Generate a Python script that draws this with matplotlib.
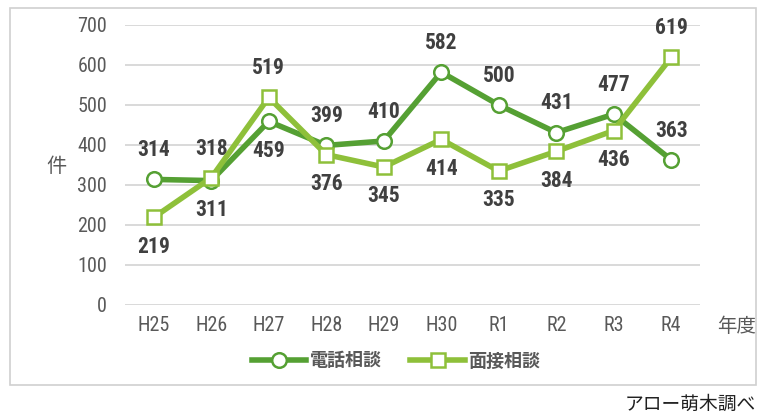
import matplotlib.pyplot as plt
from matplotlib.patches import Rectangle

plt.rcParams['font.family'] = ['Noto Sans CJK JP', 'DejaVu Sans']

years = ["H25", "H26", "H27", "H28", "H29", "H30", "R1", "R2", "R3", "R4"]
phone = [314, 311, 459, 399, 410, 582, 500, 431, 477, 363]
visit = [219, 318, 519, 376, 345, 414, 335, 384, 436, 619]
# label above (1) or below (-1) each point
phone_pos = [1, -1, -1, 1, 1, 1, 1, 1, 1, 1]
visit_pos = [-1, 1, 1, -1, -1, -1, -1, -1, -1, 1]

c_phone = "#55A033"
c_visit = "#8EC03A"
num_font = ['Roboto Condensed', 'Roboto', 'DejaVu Sans']

fig = plt.figure(figsize=(7.57, 4.16), dpi=100)
fig.patches.append(Rectangle((10 / 757, 1 - 385 / 416), 746 / 757, 377 / 416,
                             transform=fig.transFigure, fill=False,
                             edgecolor="#d0d0d0", linewidth=1.2))
ax = fig.add_axes([125 / 757, 1 - 305 / 416, 575 / 757, 280 / 416])

x = list(range(len(years)))
ax.plot(x, phone, color=c_phone, lw=4, marker="o", ms=10.5,
        mfc="white", mec=c_phone, mew=1.8, label="電話相談", zorder=3)
ax.plot(x, visit, color=c_visit, lw=4, marker="s", ms=10.5,
        mfc="white", mec=c_visit, mew=1.8, label="面接相談", zorder=4)

for xi, v, p in zip(x, phone, phone_pos):
    ax.annotate(str(v), (xi, v), xytext=(0, 21 * p), textcoords="offset points",
                ha="center", va="center", fontsize=15.5, fontweight="bold",
                color="#404040", family=num_font)
for xi, v, p in zip(x, visit, visit_pos):
    ax.annotate(str(v), (xi, v), xytext=(0, 21 * p), textcoords="offset points",
                ha="center", va="center", fontsize=15.5, fontweight="bold",
                color="#404040", family=num_font)

ax.set_xlim(-0.5, len(years) - 0.5)
ax.set_ylim(0, 700)
ax.set_yticks(range(0, 701, 100))
ax.set_xticks(x)
ax.set_xticklabels(years)
ax.tick_params(axis="both", length=0, labelsize=14.5, labelcolor="#595959")
ax.tick_params(axis="y", pad=13)
ax.tick_params(axis="x", pad=8)
for lab in ax.get_xticklabels() + ax.get_yticklabels():
    lab.set_family(num_font)
ax.grid(axis="y", color="#d9d9d9", lw=1.4)
ax.set_axisbelow(True)
for s in ax.spines.values():
    s.set_visible(False)

fig.text(56 / 757, 1 - 166 / 416, "件", fontsize=14.5, color="#595959",
         ha="center", va="center")
fig.text(737 / 757, 1 - 326 / 416, "年度", fontsize=14, color="#595959",
         ha="center", va="center")
fig.text(690 / 757, 1 - 404 / 416, "アロー萌木調べ", fontsize=13.5, color="#202020",
         ha="center", va="center")

leg = fig.legend(loc="center", bbox_to_anchor=(396 / 757, 1 - 361 / 416),
                 ncol=2, frameon=False, handlelength=3.0, handletextpad=0.2,
                 columnspacing=1.6, prop={"size": 13, "weight": "bold"})
for t in leg.get_texts():
    t.set_color("#595959")

fig.savefig("out.png", dpi=100)
